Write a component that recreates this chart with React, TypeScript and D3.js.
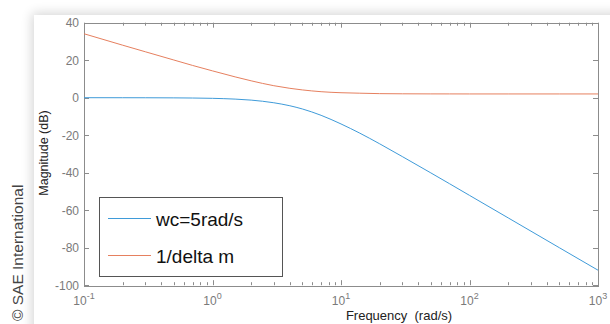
import * as d3 from 'd3';
import React, { useEffect, useRef } from 'react';

// frequencies (rad/s) and magnitudes (dB)
const freqs = [0.1, 0.2, 0.3, 0.5, 0.7, 1, 1.5, 2, 3, 4, 5, 7, 10, 14, 20, 30, 50, 70, 100, 200, 500, 1000];
const wcMag = [0, -0.01, -0.03, -0.09, -0.17, -0.34, -0.75, -1.29, -2.7, -4.3, -6.0, -9.4, -14.0, -18.9, -24.6, -31.4, -40.1, -45.9, -52.1, -64.1, -80, -92];
const deltaMag = [34.1, 28.0, 24.5, 20.1, 17.2, 14.3, 11.1, 9.0, 6.4, 5.0, 4.15, 3.2, 2.65, 2.4, 2.17, 2.08, 2.03, 2.02, 2.0, 2.0, 2.0, 2.0];
const seriesNames = ['wc=5rad/s', '1/delta m'];
const seriesColors = ['#3f9bd9', '#e6805f'];
const yTickValues = [-100, -80, -60, -40, -20, 0, 20, 40];
const xDecades = [-1, 0, 1, 2, 3];

export default () => {
    const ref = useRef<any>();

    useEffect(() => {
        const dimensions: any = {
            width: 610,
            height: 324,
            left: 84,
            right: 598,
            top: 22.7,
            bottom: 285.2,
        };

        const svg = d3.select<any, any>(ref.current)
            .attr('width', dimensions.width)
            .attr('height', dimensions.height);
        svg.selectAll('*').remove();

        // panel with shadow
        const defs = svg.append('defs');
        defs.append('filter').attr('id', 'shadow')
            .attr('x', '-20%').attr('y', '-20%').attr('width', '140%').attr('height', '140%')
            .append('feGaussianBlur').attr('stdDeviation', 6);
        svg.append('rect').attr('width', 610).attr('height', 324).attr('fill', '#fff');
        svg.append('rect')
            .attr('x', 32).attr('y', 13).attr('width', 640).attr('height', 360)
            .attr('fill', '#000').attr('opacity', 0.16).attr('filter', 'url(#shadow)');
        svg.append('rect')
            .attr('x', 34).attr('y', 15).attr('width', 640).attr('height', 360)
            .attr('fill', '#fff');

        const xScale = d3.scaleLog().domain([0.1, 1000]).range([dimensions.left, dimensions.right]);
        const yScale = d3.scaleLinear().domain([-100, 40]).range([dimensions.bottom, dimensions.top]);

        const axisColor = '#8c8c8c';
        const labelColor = '#7a7a7a';
        const font = 'Liberation Sans, Arial, sans-serif';

        const axes = svg.append('g');
        // x ticks (bottom and top)
        xScale.ticks().forEach((t: number) => {
            const major = Math.abs(Math.log10(t) - Math.round(Math.log10(t))) < 1e-6;
            const len = major ? 5 : 3;
            const x = Math.round(xScale(t)) + 0.5;
            axes.append('line').attr('x1', x).attr('x2', x)
                .attr('y1', dimensions.bottom).attr('y2', dimensions.bottom - len)
                .attr('stroke', axisColor);
            axes.append('line').attr('x1', x).attr('x2', x)
                .attr('y1', dimensions.top).attr('y2', dimensions.top + len)
                .attr('stroke', axisColor);
        });
        // y ticks (left and right)
        yTickValues.forEach((v) => {
            const y = Math.round(yScale(v)) + 0.5;
            axes.append('line').attr('x1', dimensions.left).attr('x2', dimensions.left + 5)
                .attr('y1', y).attr('y2', y).attr('stroke', axisColor);
            axes.append('line').attr('x1', dimensions.right).attr('x2', dimensions.right - 5)
                .attr('y1', y).attr('y2', y).attr('stroke', axisColor);
            axes.append('text')
                .attr('x', dimensions.left - 5).attr('y', yScale(v) + 4.5)
                .attr('text-anchor', 'end')
                .attr('font-family', font).attr('font-size', 12)
                .attr('fill', labelColor)
                .text(v);
        });
        axes.append('rect')
            .attr('x', Math.round(dimensions.left) + 0.5).attr('y', Math.round(dimensions.top) + 0.5)
            .attr('width', Math.round(dimensions.right - dimensions.left))
            .attr('height', Math.round(dimensions.bottom - dimensions.top))
            .attr('fill', 'none').attr('stroke', axisColor);

        xDecades.forEach((e) => {
            const t = axes.append('text')
                .attr('x', xScale(Math.pow(10, e)))
                .attr('y', dimensions.bottom + 20)
                .attr('text-anchor', 'middle')
                .attr('font-family', font).attr('font-size', 12)
                .attr('fill', labelColor);
            t.append('tspan').text('10');
            t.append('tspan').attr('dy', -6).attr('font-size', 9).text(e);
        });

        // curves
        const line = d3.line<any>()
            .x((d: any) => xScale(d[0]))
            .y((d: any) => yScale(d[1]))
            .curve(d3.curveMonotoneX);
        [wcMag, deltaMag].forEach((mag, i) => {
            svg.append('path')
                .datum(freqs.map((f, j) => [f, mag[j]]))
                .attr('d', line)
                .attr('fill', 'none')
                .attr('stroke', seriesColors[i])
                .attr('stroke-width', 1);
        });

        // legend
        const legend = svg.append('g');
        legend.append('rect')
            .attr('x', 99.5).attr('y', 197.5).attr('width', 183).attr('height', 79)
            .attr('fill', '#fff').attr('stroke', '#555');
        seriesNames.forEach((name, i) => {
            const y = 218.5 + i * 37;
            legend.append('line').attr('x1', 108).attr('x2', 151)
                .attr('y1', y).attr('y2', y)
                .attr('stroke', seriesColors[i]);
            legend.append('text')
                .attr('x', 156).attr('y', y + 7)
                .attr('font-family', font).attr('font-size', 19)
                .attr('fill', '#111')
                .text(name);
        });

        // axis titles
        svg.append('text')
            .attr('transform', 'translate(48,153) rotate(-90)')
            .attr('text-anchor', 'middle')
            .attr('font-family', font).attr('font-size', 12.5)
            .attr('fill', '#222')
            .text('Magnitude (dB)');
        svg.append('text')
            .attr('x', 399).attr('y', 320)
            .attr('text-anchor', 'middle')
            .attr('font-family', font).attr('font-size', 13)
            .attr('fill', '#222')
            .attr('xml:space', 'preserve')
            .style('white-space', 'pre')
            .text('Frequency  (rad/s)');
        svg.append('text')
            .attr('transform', 'translate(23,321) rotate(-90)')
            .attr('font-family', font).attr('font-size', 15.5)
            .attr('fill', '#444')
            .text('\u00a9 SAE International');
    });

    return (
        <svg ref={ref} style={{ position: 'absolute', left: 0, top: 0 }}></svg>
    );
};
